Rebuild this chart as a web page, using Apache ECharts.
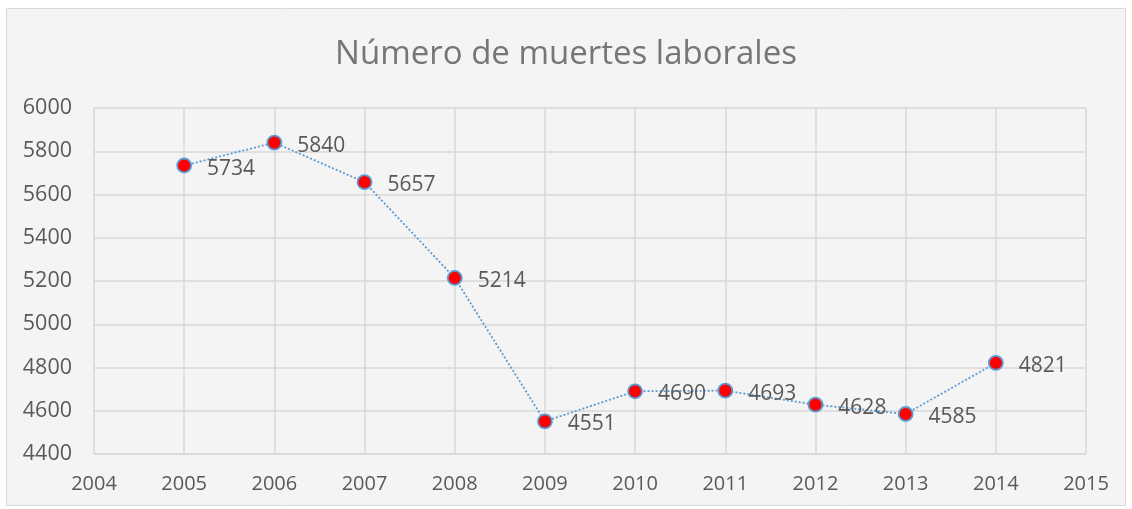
<!DOCTYPE html>
<html>
<head>
<meta charset="utf-8">
<script src="https://cdn.jsdelivr.net/npm/echarts@6/dist/echarts.min.js"></script>
<style>
html,body{margin:0;padding:0;background:#ffffff;}
#chart{width:1132px;height:509px;}
</style>
</head>
<body>
<div id="chart"></div>
<script>
const title = "Número de muertes laborales";
const years = [2005, 2006, 2007, 2008, 2009, 2010, 2011, 2012, 2013, 2014];
const deaths = [5734, 5840, 5657, 5214, 4551, 4690, 4693, 4628, 4585, 4821];
const xMin = 2004, xMax = 2015;
const yMin = 4400, yMax = 6000, yStep = 200;

const chart = echarts.init(document.getElementById('chart'));
const font = "'Open Sans', 'Liberation Sans', sans-serif";
chart.setOption({
  animation: false,
  backgroundColor: '#ffffff',
  graphic: [{
    type: 'rect', z: -10,
    shape: {x: 6.5, y: 8.5, width: 1119, height: 497},
    style: {fill: '#f4f4f4', stroke: '#d9d9d9', lineWidth: 1}
  }],
  title: {
    text: title, left: 'center', top: 33,
    textStyle: {fontFamily: font, fontSize: 33, fontWeight: 'normal', color: '#767676'}
  },
  grid: {left: 94, right: 46, top: 108, bottom: 55, containLabel: false},
  xAxis: {
    type: 'value', min: xMin, max: xMax, interval: 1,
    axisLine: {show: true, lineStyle: {color: '#d9d9d9', width: 1.5}},
    axisTick: {show: false},
    splitLine: {show: true, lineStyle: {color: '#d9d9d9', width: 1.5}},
    axisLabel: {fontFamily: font, fontSize: 20, color: '#595959', margin: 20, formatter: v => String(v)}
  },
  yAxis: {
    type: 'value', min: yMin, max: yMax, interval: yStep,
    axisLine: {show: false}, axisTick: {show: false},
    splitLine: {show: true, lineStyle: {color: '#d9d9d9', width: 1.5}},
    axisLabel: {fontFamily: font, fontSize: 21.5, color: '#595959', margin: 22, formatter: v => String(v)}
  },
  series: [{
    type: 'line',
    data: years.map((y, i) => [y, deaths[i]]),
    symbol: 'circle', symbolSize: 14,
    itemStyle: {color: '#ff0000', borderColor: '#5b9bd5', borderWidth: 1.8},
    lineStyle: {color: '#5b9bd5', width: 1.8, type: [2, 2]},
    label: {
      show: true, position: 'right', distance: 15, offset: [0, 3],
      fontFamily: font, fontSize: 21, color: '#595959',
      formatter: p => String(p.value[1])
    }
  }]
});
</script>
</body>
</html>
